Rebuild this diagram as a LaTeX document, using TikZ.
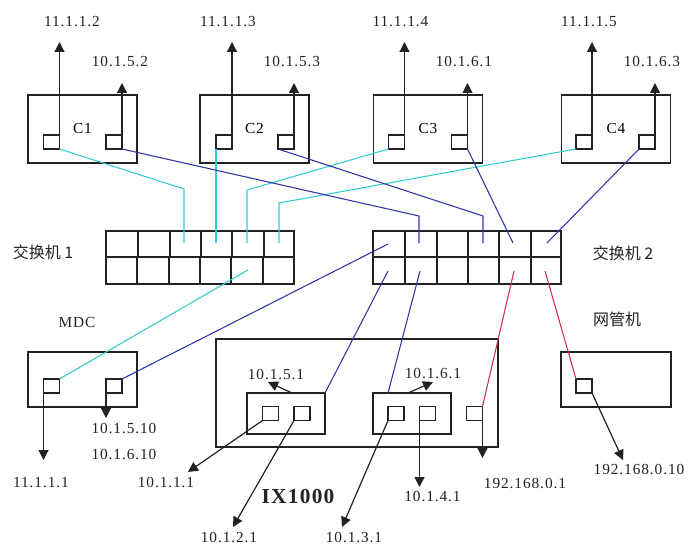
\documentclass[tikz,border=0pt]{standalone}
\usepackage{fontspec}
\setmainfont{Liberation Serif}[LetterSpace=6]
\newfontfamily\cjk{Noto Sans CJK SC}
\usetikzlibrary{arrows.meta,calc}
\definecolor{cyanl}{HTML}{33CCCC}
\definecolor{bluel}{HTML}{3333AA}
\definecolor{redl}{HTML}{CC3344}
\definecolor{ink}{HTML}{222222}
\begin{document}
\begin{tikzpicture}[x=0.75pt,y=-0.75pt,
  box/.style={draw=ink, line width=0.9pt, inner sep=0pt, outer sep=0pt, font=\fontsize{11.5}{13}\selectfont},
  port/.style={draw=ink, line width=0.9pt, minimum width=12pt, minimum height=10.5pt, inner sep=0pt, outer sep=0pt},
  lbl/.style={font=\fontsize{11.5}{13}\selectfont, inner sep=0pt, text=ink},
  cjkl/.style={font=\cjk\fontsize{12}{14}\selectfont, inner sep=0pt, text=ink},
  arr/.style={draw=ink, line width=0.9pt, -{Triangle[length=7.5pt,width=7.5pt]}},
  cy/.style={cyanl, line width=0.8pt},
  bl/.style={bluel, line width=0.8pt},
  rd/.style={redl, line width=0.8pt}]
\useasboundingbox (0,0) rectangle (688,545);

% ---- top devices
\foreach \n/\cx in {1/82.5,2/254.5,3/428,4/616}{
  \node[box, minimum width=81.75pt, minimum height=51pt] (c\n) at (\cx,129) {C\n};
}
\node[port] (c1a) at (51.5,142) {};
\node[port] (c1b) at (114,142) {};
\node[port] (c2a) at (224,142) {};
\node[port] (c2b) at (286,142) {};
\node[port] (c3a) at (396.5,142) {};
\node[port] (c3b) at (459.5,142) {};
\node[port] (c4a) at (584,142) {};
\node[port] (c4b) at (647,142) {};

\node[lbl] (l1) at (72,22) {11.1.1.2};
\node[lbl] (l2) at (120,62) {10.1.5.2};
\node[lbl] (l3) at (228,22) {11.1.1.3};
\node[lbl] (l4) at (292,62) {10.1.5.3};
\node[lbl] (l5) at (400.5,22) {11.1.1.4};
\node[lbl] (l6) at (464,62) {10.1.6.1};
\node[lbl] (l7) at (589,22) {11.1.1.5};
\node[lbl] (l8) at (652,62) {10.1.6.3};

\foreach \p in {c1a,c2a,c3a,c4a}{
  \draw[arr] (\p.north east) -- (\p.north east |- 0,42);
}
\foreach \p in {c1b,c2b,c3b,c4b}{
  \draw[arr] (\p.north east) -- (\p.north east |- 0,83);
}

% ---- switches
\draw[ink, line width=0.9pt] (106,231) rectangle (294,284) (106,257) -- (294,257);
\foreach \x in {138,170,201,232,264}{ \draw[ink, line width=0.9pt] (\x,231) -- (\x,257); \draw[ink, line width=0.9pt] (\x-1,257) -- (\x-1,284); }
\draw[ink, line width=0.9pt] (373,231) rectangle (561,284) (373,257) -- (561,257);
\foreach \x in {405,437,468,499,531}{ \draw[ink, line width=0.9pt] (\x,231) -- (\x,257); \draw[ink, line width=0.9pt] (\x,257) -- (\x,284); }
\node[cjkl] (sw1) at (43,252) {交换机 1};
\node[cjkl] (sw2) at (623,253) {交换机 2};

\coordinate (s1t3) at (184,243);
\coordinate (s1t4) at (216,243);
\coordinate (s1t5) at (247,243);
\coordinate (s1t6) at (279,243);
\coordinate (s1b5) at (248,270);
\coordinate (s2t1) at (388,244);
\coordinate (s2t2) at (419,243);
\coordinate (s2t4) at (483,243);
\coordinate (s2t5) at (513,243);
\coordinate (s2t6) at (547,243);
\coordinate (s2b1) at (388,271);
\coordinate (s2b2) at (420,271);
\coordinate (s2b5) at (514,271);
\coordinate (s2b6) at (545,271);

% ---- MDC
\node[lbl] (mdcl) at (77,322) {MDC};
\node[box, minimum width=81.75pt, minimum height=41.25pt] (mdc) at (82.5,379.5) {};
\node[port] (mdca) at (51.5,386) {};
\node[port] (mdcb) at (114,386) {};
\draw[arr] (mdca.south west) -- (mdca.south west |- 0,460);
\draw[arr] (mdcb.south west) -- (mdcb.south west |- 0,418);
\node[lbl] (l9) at (41,483) {11.1.1.1};
\node[lbl] (l10) at (124,429) {10.1.5.10};
\node[lbl] (l11) at (124,455) {10.1.6.10};

% ---- IX1000
\node[box, minimum width=211.5pt, minimum height=81pt] (ix) at (357,393) {};
\node[box, minimum width=58.5pt, minimum height=30.75pt] (in1) at (286,413.5) {};
\node[box, minimum width=58.5pt, minimum height=30.75pt] (in2) at (412,413.5) {};
\node[port] (ix1a) at (270.5,413.5) {};
\node[port] (ix1b) at (302,413.5) {};
\node[port] (ix2a) at (396,413.5) {};
\node[port] (ix2b) at (427.5,413.5) {};
\node[port] (ix3) at (474.5,413.5) {};
\node[lbl] (l12) at (276,375) {10.1.5.1};
\node[lbl] (l13) at (433,374) {10.1.6.1};
\draw[arr] ($(in1.north)+(6,0)$) -- (268,382);
\draw[arr] ($(in2.north)+(-4,0)$) -- (433,382);
\draw[arr] (ix1a.south west) -- (188,472);
\draw[arr] (ix1b.south west) -- (233,527);
\draw[arr] (ix2a.south west) -- (342,527);
\draw[arr] (ix2b.south west) -- (ix2b.south west |- 0,487);
\draw[arr] (ix3.south east) -- (ix3.south east |- 0,458);
\node[lbl] (l14) at (166,483) {10.1.1.1};
\node[lbl] (l15) at (229,538) {10.1.2.1};
\node[lbl, font=\fontsize{16}{18}\selectfont\bfseries] (ixl) at (298,497) {IX1000};
\node[lbl] (l16) at (354,538) {10.1.3.1};
\node[lbl] (l17) at (432.5,497) {10.1.4.1};
\node[lbl] (l18) at (525,484) {192.168.0.1};

% ---- management host
\node[cjkl] (nml) at (617,319) {网管机};
\node[box, minimum width=82.5pt, minimum height=41.25pt] (nm) at (616,379.5) {};
\node[port] (nmp) at (584,386) {};
\draw[arr] (nmp.south east) -- (623,460);
\node[lbl] (l19) at (639,470) {192.168.0.10};

% ---- cyan links
\draw[cy] (c1a.south east) -- (184,189) -- (s1t3);
\draw[cy] (c2a.south west) -- (s1t4);
\draw[cy] (c3a.south west) -- (247,190) -- (s1t5);
\draw[cy] (c4a.south west) -- (279,203) -- (s1t6);
\draw[cy] (mdca.north east) -- (s1b5);

% ---- blue links
\draw[bl] (c1b.south east) -- (419,216) -- (s2t2);
\draw[bl] (c2b.south west) -- (483,216) -- (s2t4);
\draw[bl] (c3b.south east) -- (s2t5);
\draw[bl] (c4b.south west) -- (s2t6);
\draw[bl] (mdcb.north east) -- (s2t1);
\draw[bl] (in1.north east) -- (s2b1);
\draw[bl] (ix2a.north west |- in2.north) -- (s2b2);

% ---- red links
\draw[rd] (s2b5) -- (ix3.north east);
\draw[rd] (s2b6) -- (nmp.north west);
\end{tikzpicture}
\end{document}
